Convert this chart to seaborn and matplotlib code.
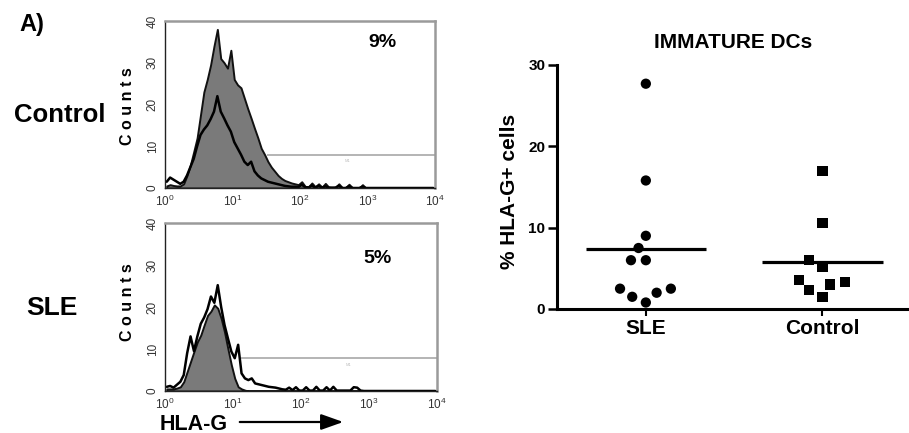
import numpy as np
import pandas as pd
import matplotlib
matplotlib.use("Agg")
import matplotlib.pyplot as plt
from matplotlib.ticker import NullLocator
import seaborn as sns

# ---------------------------------------------------------------------------
# Flow cytometry histograms (HLA-G, 4-decade log scale, 20 channels per decade)
# ---------------------------------------------------------------------------
CHANNELS_PER_DECADE = 20
N_DECADES = 4

control_filled = [
    0.5, 0.8, 0.6, 0.5, 0.5, 1.0, 3.0, 5.5, 8.7, 12.0,
    17.5, 23.0, 26.0, 29.5, 34.0, 38.0, 31.0, 30.0, 28.7, 33.0,
    26.0, 24.7, 24.0, 21.5, 19.0, 16.7, 14.3, 12.0, 9.5, 8.0,
    6.3, 5.0, 4.0, 3.0, 2.3, 1.8, 1.5, 1.2, 1.0, 0.8,
    1.5, 0.4, 0.3, 1.2, 0.3, 1.0, 0.2, 1.1, 0.2, 0.1,
    0.2, 1.0, 0.1, 0.1, 0.9, 0.1, 0.0, 0.0, 0.8, 0.0,
    0.0, 0.0, 0.0, 0.0, 0.0, 0.0, 0.0, 0.0, 0.0, 0.0,
    0.0, 0.0, 0.0, 0.0, 0.0, 0.0, 0.0, 0.0, 0.0, 0.0,
]
control_open = [
    1.5, 2.5, 2.0, 1.5, 1.0, 1.5, 3.0, 5.0, 7.0, 10.0,
    12.7, 14.0, 15.0, 16.5, 18.3, 22.0, 18.3, 16.7, 15.0, 13.5,
    11.0, 9.5, 8.0, 6.3, 5.5, 6.3, 4.0, 3.0, 2.3, 1.9,
    1.5, 1.3, 1.1, 0.9, 0.7, 0.5, 0.4, 0.3, 0.3, 0.2,
    0.8, 0.2, 0.1, 0.6, 0.1, 0.5, 0.1, 0.4, 0.1, 0.1,
    0.1, 0.5, 0.0, 0.0, 0.4, 0.0, 0.0, 0.0, 0.3, 0.0,
    0.0, 0.0, 0.0, 0.0, 0.0, 0.0, 0.0, 0.0, 0.0, 0.0,
    0.0, 0.0, 0.0, 0.0, 0.0, 0.0, 0.0, 0.0, 0.0, 0.0,
]
sle_filled = [
    0.5, 0.5, 0.5, 0.7, 1.0, 2.2, 4.6, 7.0, 9.4, 11.7,
    13.3, 15.7, 18.0, 19.0, 20.5, 19.7, 17.3, 14.0, 10.0, 6.2,
    3.0, 1.0, 0.5, 0.2, 0.0, 0.0, 0.0, 0.0, 0.0, 0.0,
    0.0, 0.0, 0.0, 0.0, 0.0, 0.0, 0.0, 0.0, 0.0, 0.0,
    0.0, 0.0, 0.0, 0.0, 0.0, 0.0, 0.0, 0.0, 0.0, 0.0,
    0.0, 0.0, 0.0, 0.0, 0.0, 0.0, 0.0, 0.0, 0.0, 0.0,
    0.0, 0.0, 0.0, 0.0, 0.0, 0.0, 0.0, 0.0, 0.0, 0.0,
    0.0, 0.0, 0.0, 0.0, 0.0, 0.0, 0.0, 0.0, 0.0, 0.0,
]
sle_open = [
    1.0, 1.2, 0.8, 1.5, 2.2, 3.8, 9.0, 13.0, 9.5, 13.0,
    16.0, 17.5, 19.5, 22.5, 21.0, 25.2, 20.0, 15.7, 12.5, 9.4,
    7.8, 11.0, 4.2, 3.0, 2.6, 3.0, 1.8, 1.6, 1.4, 1.2,
    1.0, 0.9, 0.8, 0.6, 0.4, 0.3, 0.8, 0.2, 0.9, 0.1,
    0.1, 0.9, 0.1, 0.1, 1.0, 0.1, 0.1, 0.9, 0.1, 1.0,
    0.1, 0.1, 0.1, 0.1, 0.1, 0.9, 0.8, 0.1, 0.0, 0.0,
    0.0, 0.0, 0.0, 0.0, 0.0, 0.0, 0.0, 0.0, 0.0, 0.0,
    0.0, 0.0, 0.0, 0.0, 0.0, 0.0, 0.0, 0.0, 0.0, 0.0,
]

# Marker region (M1) on each histogram: start, end (fluorescence), height (counts)
control_gate = (32.0, 10000.0, 8.0)
sle_gate = (13.0, 10000.0, 7.8)
control_pct = "9%"
sle_pct = "5%"

# ---------------------------------------------------------------------------
# Immature DCs: % HLA-G+ cells per donor
# ---------------------------------------------------------------------------
groups = ["SLE", "Control"]
sle_values = [27.7, 15.8, 9.0, 7.5, 6.0, 6.0, 2.5, 2.0, 0.8, 1.5, 2.5]
control_values = [17.0, 10.6, 6.0, 5.2, 3.6, 3.0, 3.3, 2.3, 1.5]

# ---------------------------------------------------------------------------
sns.set_style("white")
plt.rcParams["font.family"] = ["Liberation Sans", "DejaVu Sans"]
for key in ("text.color", "axes.labelcolor", "xtick.color", "ytick.color"):
    plt.rcParams[key] = "black"

W, H = 909, 433
fig = plt.figure(figsize=(W / 100, H / 100), dpi=100)


def px_rect(left, top, right, bottom):
    return [left / W, 1 - bottom / H, (right - left) / W, (bottom - top) / H]


log_width = 1.0 / CHANNELS_PER_DECADE
centers_log = (np.arange(CHANNELS_PER_DECADE * N_DECADES) + 0.5) * log_width


def flow_panel(ax, filled, open_, gate, pct, pct_pos, label_y):
    df = pd.DataFrame({"HLA-G": 10 ** centers_log,
                       "filled": filled, "open": open_})
    sns.histplot(data=df, x="HLA-G", weights="filled", log_scale=True,
                 binwidth=log_width, binrange=(0, N_DECADES),
                 element="poly", fill=True, color="#7a7a7a", alpha=1,
                 edgecolor="#111111", linewidth=1.4, ax=ax)
    sns.histplot(data=df, x="HLA-G", weights="open", log_scale=True,
                 binwidth=log_width, binrange=(0, N_DECADES),
                 element="poly", fill=False, color="black", linewidth=1.8,
                 ax=ax)
    ax.hlines(gate[2], gate[0], gate[1], color="#a0a0a0", lw=1.1, zorder=1)
    ax.text(10 ** 2.7, gate[2] - 1.6, "M1", fontsize=3, color="#c0c0c0",
            ha="center", va="center")
    ax.set_xlim(1, 10 ** N_DECADES)
    ax.set_ylim(0, 40)
    ax.set_yticks([0, 10, 20, 30, 40])
    ax.xaxis.set_minor_locator(NullLocator())
    ax.set_xlabel("")
    ax.set_ylabel("C o u n t s", fontsize=11.5, fontweight="bold")
    ax.yaxis.set_label_coords(-0.112, label_y)
    ax.tick_params(axis="both", which="major", direction="out", length=3,
                   width=0.8, color="#333333", labelsize=8.5,
                   labelcolor="#333333", pad=1.5)
    ax.tick_params(axis="y", labelrotation=90)
    for lbl in ax.get_yticklabels():
        lbl.set_va("center")
    for side in ("left", "bottom"):
        ax.spines[side].set_color("#222222")
        ax.spines[side].set_linewidth(1.0)
    for side in ("top", "right"):
        ax.spines[side].set_color("#9a9a9a")
        ax.spines[side].set_linewidth(1.8)
    ax.text(pct_pos[0], pct_pos[1], pct, transform=ax.transAxes,
            fontsize=14, fontweight="bold", ha="center", va="center")


ax_top = fig.add_axes(px_rect(165, 21, 435, 188))
flow_panel(ax_top, control_filled, control_open, control_gate, control_pct,
           (0.804, 0.874), 0.49)
ax_bot = fig.add_axes(px_rect(165, 223, 437, 391))
flow_panel(ax_bot, sle_filled, sle_open, sle_gate, sle_pct,
           (0.783, 0.79), 0.53)

fig.text(32 / W, 1 - 24 / H, "A)", fontsize=17, fontweight="bold",
         ha="center", va="center")
fig.text(60 / W, 1 - 115 / H, "Control", fontsize=18.5, fontweight="bold",
         ha="center", va="center")
fig.text(52 / W, 1 - 308 / H, "SLE", fontsize=19, fontweight="bold",
         ha="center", va="center")
fig.text(160 / W, 1 - 424 / H, "HLA-G", fontsize=15.5, fontweight="bold",
         ha="left", va="center")
fig.add_artist(matplotlib.patches.FancyArrowPatch(
    (237 / W, 1 - 422 / H), (346 / W, 1 - 422 / H),
    transform=fig.transFigure, arrowstyle="-|>,head_length=0.45,head_width=0.16",
    mutation_scale=30, color="black", lw=1.6))

# ---------------------------------------------------------------------------
ax_dc = fig.add_axes(px_rect(557, 65, 909, 309))
dc = pd.DataFrame({
    "group": ["SLE"] * len(sle_values) + ["Control"] * len(control_values),
    "pct": sle_values + control_values,
})
# an invisible edge widens the swarm spacing between neighbouring markers
for g, marker in zip(groups, ["o", "s"]):
    sns.swarmplot(data=dc[dc["group"] == g], x="group", y="pct", order=groups,
                  marker=marker, color="black", size=7.4, linewidth=2.8,
                  edgecolor="none", ax=ax_dc, zorder=3)
for i, g in enumerate(groups):
    mean = dc.loc[dc["group"] == g, "pct"].mean()
    ax_dc.hlines(mean, i - 0.34, i + 0.34, color="black", lw=2.3, zorder=2)

ax_dc.set_xlim(-0.503, 1.49)
ax_dc.set_ylim(0, 30)
ax_dc.set_yticks([0, 10, 20, 30])
sns.despine(ax=ax_dc)
for side in ("left", "bottom"):
    ax_dc.spines[side].set_linewidth(2.2)
    ax_dc.spines[side].set_color("black")
ax_dc.tick_params(axis="y", direction="out", length=6.5, width=1.8,
                  labelsize=11, pad=2, left=True)
ax_dc.tick_params(axis="x", direction="out", length=5, width=1.5,
                  labelsize=15, pad=2, bottom=True)
for lbl in ax_dc.get_xticklabels() + ax_dc.get_yticklabels():
    lbl.set_fontweight("bold")
ax_dc.set_xlabel("")
ax_dc.set_ylabel("% HLA-G+ cells", fontsize=15, fontweight="bold")
ax_dc.yaxis.set_label_coords(-0.108, 0.48)
ax_dc.set_title("IMMATURE DCs", fontsize=15, fontweight="bold", pad=12)

fig.savefig("out.png", dpi=100)
